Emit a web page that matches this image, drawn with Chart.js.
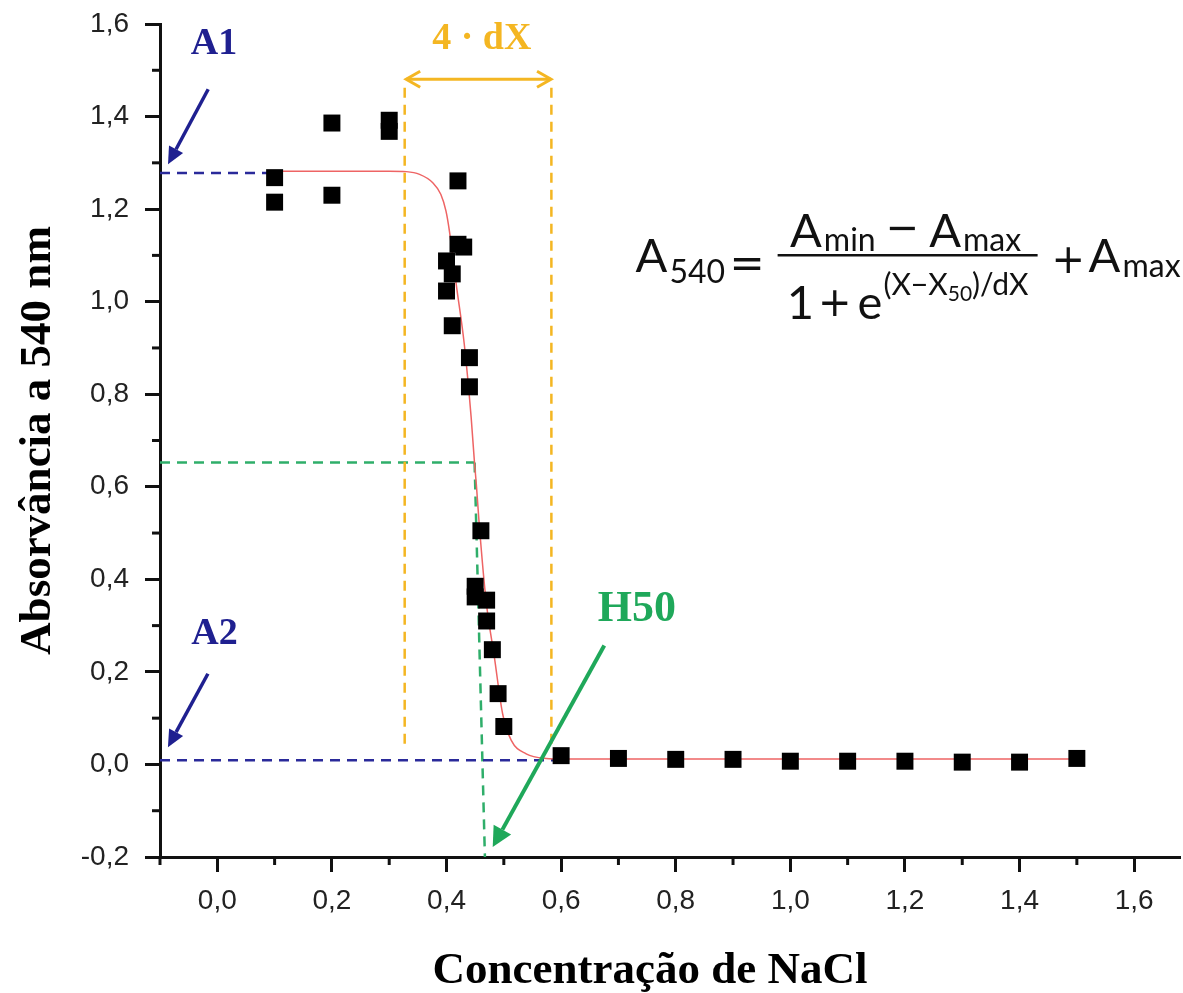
<!DOCTYPE html>
<html><head><meta charset="utf-8">
<script src="https://cdn.jsdelivr.net/npm/chart.js@4.4.0/dist/chart.umd.min.js"></script>
<style>html,body{margin:0;padding:0;background:#fff;}canvas{display:block;}</style>
</head><body>
<canvas id="c" width="1183" height="993"></canvas>
<script>
// ---- data ----
const xTicks = [0, 0.2, 0.4, 0.6, 0.8, 1.0, 1.2, 1.4, 1.6];
const yTicks = [-0.2, 0, 0.2, 0.4, 0.6, 0.8, 1.0, 1.2, 1.4, 1.6];
const xMinorTicks = [-0.1, 0.1, 0.3, 0.5, 0.7, 0.9, 1.1, 1.3, 1.5];
const yMinorTicks = [-0.1, 0.1, 0.3, 0.5, 0.7, 0.9, 1.1, 1.3, 1.5];

const concX = [0.1, 0.1, 0.2, 0.2, 0.3, 0.3, 0.40, 0.40, 0.41, 0.41, 0.42, 0.42, 0.43, 0.44, 0.44, 0.45, 0.45, 0.46, 0.47, 0.47, 0.48, 0.49, 0.50, 0.6, 0.7, 0.8, 0.9, 1.0, 1.1, 1.2, 1.3, 1.4, 1.5];
const absY  = [1.268, 1.215, 1.386, 1.230, 1.392, 1.368, 1.088, 1.023, 1.060, 0.948, 1.261, 1.124, 1.118, 0.879, 0.816, 0.385, 0.362, 0.505, 0.355, 0.310, 0.248, 0.153, 0.082, 0.019, 0.013, 0.011, 0.011, 0.007, 0.007, 0.007, 0.005, 0.005, 0.013];

const fitX = [0.1, 0.2, 0.3, 0.33, 0.353, 0.376, 0.39, 0.399, 0.405, 0.417, 0.431, 0.443, 0.449, 0.452, 0.457, 0.469, 0.4835, 0.498, 0.513, 0.539, 0.574, 0.6, 0.8, 1.0, 1.2, 1.4, 1.5];
const fitY = [1.282, 1.282, 1.282, 1.281, 1.275, 1.257, 1.232, 1.196, 1.153, 1.037, 0.908, 0.750, 0.649, 0.606, 0.520, 0.354, 0.232, 0.109, 0.052, 0.023, 0.013, 0.012, 0.012, 0.012, 0.012, 0.012, 0.012];

const a1LineX = [-0.1, 0.09];   const a1LineY = [1.278, 1.278];
const a2LineX = [-0.1, 0.6];    const a2LineY = [0.009, 0.009];
const dxLeftX = [0.327, 0.327]; const dxLeftY = [1.462, 0.03];
const dxRightX = [0.583, 0.583]; const dxRightY = [1.462, 0.03];
const h50HX = [-0.1, 0.449];    const h50HY = [0.6525, 0.6525];
const h50VX = [0.449, 0.467];   const h50VY = [0.6525, -0.2];

const xTitle = 'Concentração de NaCl';
const yTitle = 'Absorvância a 540 nm';

// ---- helpers ----
const pts = (xs, ys) => xs.map((x, i) => ({x: x, y: ys[i]}));
const fmt = v => (Math.round(v * 10) / 10).toFixed(1).replace('.', ',');

function dashed(xs, ys, color) {
  return {data: pts(xs, ys), showLine: true, borderColor: color, borderWidth: 2.5,
          borderDash: [10, 7], pointRadius: 0, fill: false, order: 3};
}

function arrow(ctx, x1, y1, x2, y2, color, w, hl, hw) {
  const a = Math.atan2(y2 - y1, x2 - x1);
  const bx = x2 - hl * Math.cos(a), by = y2 - hl * Math.sin(a);
  ctx.strokeStyle = color; ctx.fillStyle = color; ctx.lineWidth = w; ctx.setLineDash([]);
  ctx.beginPath(); ctx.moveTo(x1, y1); ctx.lineTo(bx, by); ctx.stroke();
  ctx.beginPath(); ctx.moveTo(x2, y2);
  ctx.lineTo(bx + hw * Math.sin(a), by - hw * Math.cos(a));
  ctx.lineTo(bx - hw * Math.sin(a), by + hw * Math.cos(a));
  ctx.closePath(); ctx.fill();
}

const annot = {
  id: 'annot',
  afterDraw(chart) {
    const ctx = chart.ctx, xs = chart.scales.x, ys = chart.scales.y;
    const X = v => xs.getPixelForValue(v), Y = v => ys.getPixelForValue(v);
    const ca = chart.chartArea;
    ctx.save();
    // minor ticks
    ctx.strokeStyle = '#111'; ctx.lineWidth = 3;
    xMinorTicks.forEach(v => { const p = X(v); ctx.beginPath(); ctx.moveTo(p, ca.bottom); ctx.lineTo(p, ca.bottom + 8); ctx.stroke(); });
    yMinorTicks.forEach(v => { const p = Y(v); ctx.beginPath(); ctx.moveTo(ca.left, p); ctx.lineTo(ca.left - 8, p); ctx.stroke(); });

    // x axis title
    ctx.fillStyle = '#000';
    ctx.textAlign = 'center'; ctx.textBaseline = 'alphabetic';
    ctx.font = 'bold 45px "Liberation Serif"';
    ctx.fillText(xTitle, X(0.755), ca.bottom + 126);

    const navy = '#1f2090', gold = '#F4B622', green = '#1fa85a';
    ctx.textAlign = 'left';
    // A1 / A2
    ctx.fillStyle = navy;
    ctx.font = 'bold 38px "Liberation Serif"';
    ctx.fillText('A1', X(-0.0462), Y(1.535));
    ctx.fillText('A2', X(-0.0453), Y(0.261));
    arrow(ctx, X(-0.0159), Y(1.459), X(-0.086), Y(1.297), navy, 3.5, 17, 8);
    arrow(ctx, X(-0.0164), Y(0.196), X(-0.0861), Y(0.0374), navy, 3.5, 17, 8);

    // 4 · dX
    ctx.fillStyle = gold;
    ctx.font = 'bold 38px "Liberation Serif"';
    ctx.fillText('4 · dX', X(0.375), Y(1.546));
    const ay = Y(1.4806), ax1 = X(0.3296), ax2 = X(0.5824);
    ctx.strokeStyle = gold; ctx.lineWidth = 3; ctx.setLineDash([]);
    ctx.beginPath(); ctx.moveTo(ax1, ay); ctx.lineTo(ax2, ay); ctx.stroke();
    ctx.beginPath(); ctx.moveTo(ax1 + 14, ay - 8); ctx.lineTo(ax1, ay); ctx.lineTo(ax1 + 14, ay + 8); ctx.stroke();
    ctx.beginPath(); ctx.moveTo(ax2 - 14, ay - 8); ctx.lineTo(ax2, ay); ctx.lineTo(ax2 - 14, ay + 8); ctx.stroke();

    // H50
    ctx.fillStyle = green;
    ctx.font = 'bold 44px "Liberation Serif"';
    ctx.fillText('H50', X(0.664), Y(0.311));
    arrow(ctx, X(0.6753), Y(0.257), X(0.4806), Y(-0.1786), green, 4, 20, 10);

    // equation A540 = (Amin - Amax)/(1 + e^((X-X50)/dX)) + Amax
    const bx = X(0.73), by = Y(1.065);
    ctx.fillStyle = '#111';
    const setF = p => { ctx.font = p[2] + 'px ' + (p[3] || 'Lato'); };
    const seqWidth = parts => parts.reduce((w, p) => { setF(p); return w + ctx.measureText(p[0]).width + (p[4] || 0); }, 0);
    const seq = (parts, x0) => {
      let x = x0;
      parts.forEach(p => { setF(p); ctx.fillText(p[0], x, by + p[1]); x += ctx.measureText(p[0]).width + (p[4] || 0); });
      return x;
    };
    seq([['A', 0, 47, null, 2], ['540', 11, 32]], bx);
    seq([['=', 5, 42, '"DejaVu Sans"']], bx + 94);
    ctx.strokeStyle = '#111'; ctx.lineWidth = 2.5;
    ctx.beginPath(); ctx.moveTo(bx + 142, by - 16.4); ctx.lineTo(bx + 402, by - 16.4); ctx.stroke();
    const num = [['A', -25, 47, null, 2], ['min', -21, 32, null, 10], ['\u2212', -31, 40, '"DejaVu Sans"', 10],
                 ['A', -25, 47, null, 2], ['max', -21, 32]];
    seq(num, bx + 270 - seqWidth(num) / 2);
    const den = [['1', 47, 47, null, 4], ['+', 44, 40, '"DejaVu Sans"', 6], ['e', 47, 47, null, 1],
                 ['(X\u2212X', 23, 30], ['50', 29, 21], [')/dX', 23, 30]];
    seq(den, bx + 272 - seqWidth(den) / 2);
    seq([['+', 1, 40, '"DejaVu Sans"']], bx + 416);
    seq([['A', 0, 47, null, 2], ['max', 5, 32]], bx + 453);
    ctx.restore();
  }
};

const axisCommon = {
  type: 'linear',
  grid: {drawOnChartArea: false, drawTicks: true, tickLength: 15, tickWidth: 3, tickColor: '#111'},
  border: {display: true, width: 3, color: '#111'}
};

new Chart(document.getElementById('c'), {
  type: 'scatter',
  data: {
    datasets: [
      {data: pts(concX, absY), pointStyle: 'rect', pointRadius: 12, pointHoverRadius: 12,
       backgroundColor: '#000', borderColor: '#000', borderWidth: 0, showLine: false, order: 0},
      {data: pts(fitX, fitY), showLine: true, borderColor: '#EE6464', borderWidth: 1.5,
       pointRadius: 0, cubicInterpolationMode: 'monotone', fill: false, order: 1},
      dashed(a1LineX, a1LineY, '#2a2a9a'),
      dashed(a2LineX, a2LineY, '#2a2a9a'),
      dashed(dxLeftX, dxLeftY, '#F4B622'),
      dashed(dxRightX, dxRightY, '#F4B622'),
      dashed(h50HX, h50HY, '#2fae6a'),
      dashed(h50VX, h50VY, '#2fae6a')
    ]
  },
  options: {
    responsive: false, animation: false, devicePixelRatio: 1,
    layout: {autoPadding: false, padding: {top: 24, right: 3, left: 0, bottom: 0}},
    plugins: {legend: {display: false}, tooltip: {enabled: false}},
    scales: {
      x: Object.assign({}, axisCommon, {
        min: -0.1, max: 1.68,
        afterBuildTicks: s => { s.ticks = xTicks.map(v => ({value: v})); },
        afterFit: s => { s.height = 136; s.paddingLeft = 0; s.paddingRight = 0; },
        ticks: {font: {family: 'Liberation Sans', size: 28}, color: '#222', padding: 12,
                maxRotation: 0, autoSkip: false, callback: v => fmt(v)},
        title: {display: false}
      }),
      y: Object.assign({}, axisCommon, {
        min: -0.2, max: 1.6,
        afterBuildTicks: s => { s.ticks = yTicks.map(v => ({value: v})); },
        afterFit: s => { s.width = 160; s.paddingTop = 0; s.paddingBottom = 0; },
        ticks: {font: {family: 'Liberation Sans', size: 28}, color: '#222', padding: 16,
                autoSkip: false, callback: v => fmt(v)},
        title: {display: true, text: yTitle, color: '#000', padding: {top: 11, bottom: 0},
                font: {family: 'Liberation Serif', size: 45, weight: 'bold'}}
      })
    }
  },
  plugins: [annot]
});
</script>
</body></html>
